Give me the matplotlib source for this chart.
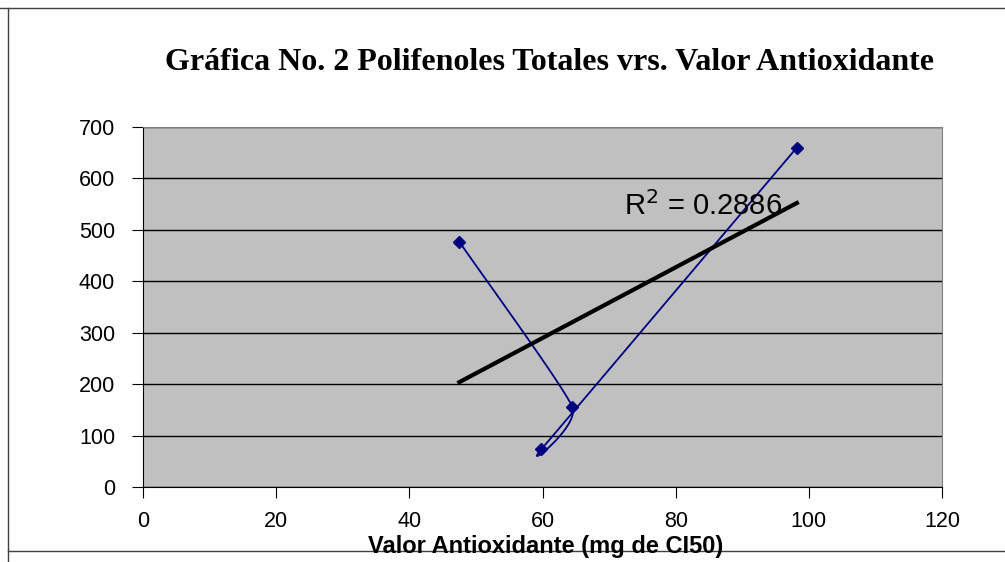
import numpy as np
import matplotlib
matplotlib.use("Agg")
import matplotlib.pyplot as plt
from matplotlib.lines import Line2D

# data (Valor Antioxidante vs Polifenoles Totales)
x_vals = [47.5, 64.5, 59.8, 98.2]
y_vals = [477, 155, 73, 660]
r2_text = "R$^2$ = 0.2886"
x_ticks = [0, 20, 40, 60, 80, 100, 120]
y_ticks = [0, 100, 200, 300, 400, 500, 600, 700]


def smooth(xs, ys, k=0.55, n=40):
    # cardinal spline through the points, like Excel's "smoothed line"
    p = np.column_stack([xs, ys]).astype(float)
    tang = np.zeros_like(p)
    tang[1:-1] = k * (p[2:] - p[:-2]) / 2
    tang[0] = k * (p[1] - p[0])
    tang[-1] = k * (p[-1] - p[-2])
    t = np.linspace(0, 1, n)[:, None]
    h00 = 2 * t**3 - 3 * t**2 + 1
    h10 = t**3 - 2 * t**2 + t
    h01 = -2 * t**3 + 3 * t**2
    h11 = t**3 - t**2
    out = [h00 * p[i] + h10 * tang[i] + h01 * p[i + 1] + h11 * tang[i + 1]
           for i in range(len(p) - 1)]
    out = np.vstack(out)
    return out[:, 0], out[:, 1]


fig = plt.figure(figsize=(10.05, 5.62), dpi=100)
ax = fig.add_axes([143 / 1005, 1 - 487 / 562, 799 / 1005, 360 / 562])
ax.set_facecolor("#c0c0c0")

sx, sy = smooth(x_vals, y_vals)
ax.plot(sx, sy, color="#000080", lw=1.3, zorder=3)
ax.plot(x_vals, y_vals, ls="none", marker="D", ms=6, color="#000080", zorder=4)

# linear trendline
m, b = np.polyfit(x_vals, y_vals, 1)
tx = np.array([min(x_vals), max(x_vals)])
ax.plot(tx, m * tx + b, color="black", lw=3, zorder=3)
ax.text(72.2, 528, r2_text, fontsize=21, family="Liberation Sans", zorder=5)

ax.set_xlim(0, 120)
ax.set_ylim(0, 700)
ax.set_xticks(x_ticks)
ax.set_yticks(y_ticks)
ax.yaxis.grid(True, color="black", lw=1)
ax.set_axisbelow(True)
for s in ax.spines.values():
    s.set_color("#808080")
ax.spines["left"].set_color("black")
ax.spines["bottom"].set_color("black")
ax.tick_params(direction="out", length=8, labelsize=15.5, colors="black")
for lab in ax.get_xticklabels() + ax.get_yticklabels():
    lab.set_family("Liberation Sans")
ax.tick_params(axis="x", pad=9)
ax.tick_params(axis="y", pad=12)

# x-axis title placed by hand, sits tight under the tick labels as in the original
fig.text(546 / 1005, 1 - 553 / 562, "Valor Antioxidante (mg de CI50)", ha="center",
         va="baseline", fontsize=17, fontweight="bold", family="Liberation Sans")

fig.text(0.547, 1 - 62 / 562, "Gráfica No. 2 Polifenoles Totales vrs. Valor Antioxidante",
         ha="center", va="center", fontsize=23, fontweight="bold", family="Liberation Serif")

# chart-area frame
fig.add_artist(Line2D([0, 1], [1 - 8 / 562] * 2, color="#404040", lw=1, transform=fig.transFigure))
fig.add_artist(Line2D([8 / 1005] * 2, [0, 1 - 8 / 562], color="#404040", lw=1, transform=fig.transFigure))
fig.add_artist(Line2D([8 / 1005, 1], [1 - 551 / 562] * 2, color="#404040", lw=1, transform=fig.transFigure))

fig.savefig("out.png", dpi=100)
